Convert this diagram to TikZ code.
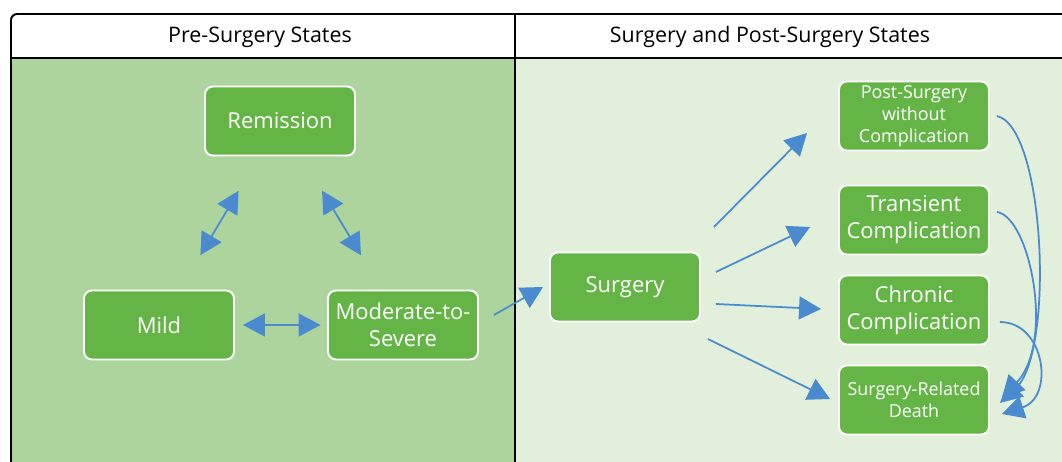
\documentclass[tikz,border=0pt]{standalone}
\usepackage{fontspec}
\setmainfont{Open Sans}
\usetikzlibrary{arrows.meta}

\definecolor{preGreen}{HTML}{ADD49C}
\definecolor{postGreen}{HTML}{E2EFDA}
\definecolor{boxGreen}{HTML}{64B446}
\definecolor{flowBlue}{HTML}{4A8BD0}

\begin{document}
\begin{tikzpicture}[x=0.02cm, y=0.02cm, >={Triangle[length=0.44cm, width=0.46cm]},
  state/.style={draw=white, line width=1.1pt, fill=boxGreen, rounded corners=4.5pt,
    minimum width=3.0cm, minimum height=1.38cm, inner sep=2pt, align=center,
    text=white, font=\fontsize{12.5}{15.3}\selectfont},
  small/.style={font=\fontsize{10.2}{12.5}\selectfont},
  header/.style={font=\fontsize{12.2}{15}\selectfont},
  flow/.style={->, flowBlue, line width=1pt}]
  \useasboundingbox (0,0) rectangle (1062,462);
  \clip (0,0) rectangle (1062,462);
  % Panels
  \fill[preGreen] (11,0) rectangle (515,404);
  \fill[postGreen] (515,0) rectangle (1062,404);
  % Frame
  \draw[line width=1.1pt, rounded corners=3.5pt] (11,-20) -- (11,448) -- (1080,448);
  \draw[line width=1.1pt] (11,404) -- (1062,404);
  \draw[line width=1.1pt] (515,0) -- (515,448);
  % Headers
  \node[header] (prehead) at (260,425) {Pre-Surgery States};
  \node[header] (posthead) at (770,425) {Surgery and Post-Surgery States};
  % Pre-surgery states
  \node[state] (rem) at (280,341) {Remission};
  \node[state] (mild) at (159,137) {Mild};
  \node[state] (mod) at (403,137) {Moderate-to-\\Severe};
  % Surgery and post-surgery states
  \node[state] (sur) at (625,175) {Surgery};
  \node[state, small] (post) at (914,346) {Post-Surgery\\without\\Complication};
  \node[state] (trans) at (914,242) {Transient\\Complication};
  \node[state] (chron) at (914,152) {Chronic\\Complication};
  \node[state, small] (death) at (914,62) {Surgery-Related\\Death};
  % Transitions between pre-surgery states
  \draw[flow, <->, shorten >=0.8cm, shorten <=0.8cm] (rem) -- (mild);
  \draw[flow, <->, shorten >=0.8cm, shorten <=0.8cm] (rem) -- (mod);
  \draw[flow, <->, shorten >=0.13cm, shorten <=0.16cm] (mild) -- (mod);
  % To surgery
  \draw[flow] ([shift={(15,10)}]mod.east) -- ([shift={(-6,0)}]sur.west);
  % Surgery outcomes
  \draw[flow] ([shift={(13,60)}]sur.east) -- ([shift={(-31,-17)}]post.west);
  \draw[flow] ([shift={(15,15)}]sur.east) -- ([shift={(-28,-7)}]trans.west);
  \draw[flow] ([shift={(15,-17)}]sur.east) -- ([shift={(-17,1)}]chron.west);
  \draw[flow] ([shift={(7,-52)}]sur.east) -- ([shift={(-8,1)}]death.west);
  % To surgery-related death
  \draw[flow] ([shift={(7,0)}]post.east) .. controls +(48,-11) and +(55,51) .. ([shift={(10,-3)}]death.east);
  \draw[flow] ([shift={(7,8)}]trans.east) .. controls +(33,-5) and +(53,56) .. ([shift={(12,2)}]death.east);
  \draw[flow] ([shift={(10,-12)}]chron.east) .. controls +(45,0) and +(53,17) .. ([shift={(12,-14)}]death.east);
\end{tikzpicture}
\end{document}
